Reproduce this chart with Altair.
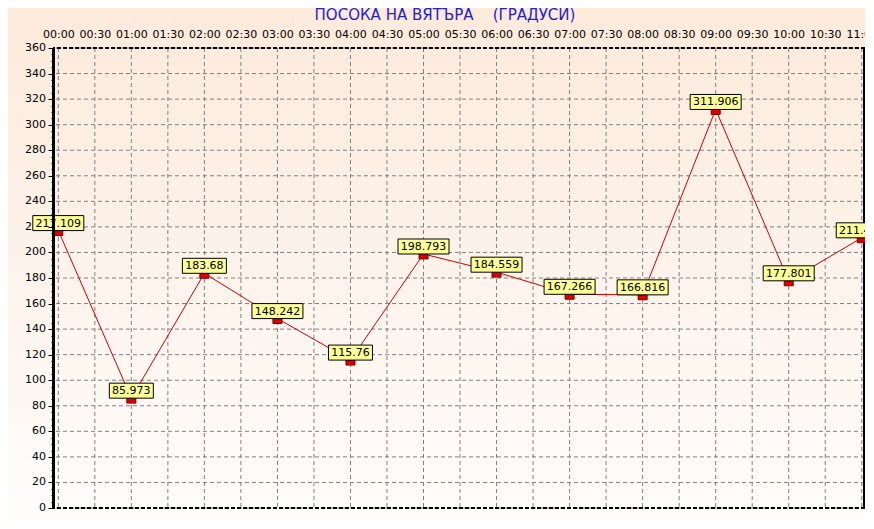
import altair as alt
import pandas as pd

# ---- data ----
times = ["00:00", "01:00", "02:00", "03:00", "04:00", "05:00",
         "06:00", "07:00", "08:00", "09:00", "10:00", "11:00"]
values = [217.109, 85.973, 183.68, 148.242, 115.76, 198.793,
          184.559, 167.266, 166.816, 311.906, 177.801, 211.449]
labels = ["217.109", "85.973", "183.68", "148.242", "115.76", "198.793",
          "184.559", "167.266", "166.816", "311.906", "177.801", "211.449"]
tick_labels = ["00:00", "00:30", "01:00", "01:30", "02:00", "02:30", "03:00",
               "03:30", "04:00", "04:30", "05:00", "05:30", "06:00", "06:30",
               "07:00", "07:30", "08:00", "08:30", "09:00", "09:30", "10:00",
               "10:30", "11:00"]
y_grid = [0, 20, 40, 60, 80, 100, 120, 140, 160, 180, 200, 220, 240, 260,
          280, 300, 320, 340, 360]
y_ticks = list(range(0, 361, 5))
title_text = "ПОСОКА НА ВЯТЪРА\u00a0\u00a0\u00a0\u00a0(ГРАДУСИ)"

df = pd.DataFrame({"time": times, "value": values, "label": labels})
gx = pd.DataFrame({"time": tick_labels})
gy = pd.DataFrame({"value": y_grid})
one = pd.DataFrame({"t": [title_text]})

W, H = 812, 460
FONT = "DejaVu Sans"

x_scale = alt.Scale(type="point", domain=tick_labels, padding=0.117, align=0.62)
y_scale = alt.Scale(domain=[0, 360], nice=False, zero=False)

x_enc = alt.X(
    "time:O", scale=x_scale,
    axis=alt.Axis(orient="top", title=None, labelAngle=0, ticks=False,
                  domain=False, grid=False, labelFont=FONT, labelFontSize=11,
                  labelColor="black", labelPadding=9, zindex=1,
                  labelOverlap=False),
)
# y axis: line and ticks on top; its labels are drawn as a text layer below the value boxes
y_enc = alt.Y(
    "value:Q", scale=y_scale,
    axis=alt.Axis(values=y_ticks, title=None, grid=False, domainColor="black",
                  domainWidth=3, tickColor="black", tickWidth=1,
                  tickSize={"condition": {"test": "datum.value % 20 === 0", "value": 5}, "value": 2},
                  labels=False, zindex=1),
)

grad = alt.LinearGradient(
    gradient="linear", x1=0, x2=0, y1=0, y2=1,
    stops=[alt.GradientStop(offset=0, color="#fdeadb"),
           alt.GradientStop(offset=0.5, color="#fdf3eb"),
           alt.GradientStop(offset=1, color="#fffdfc")],
)

bg = alt.Chart(one).mark_rect(fill=grad, strokeWidth=0).encode(
    x=alt.value(-45), x2=alt.value(W), y=alt.value(-40), y2=alt.value(H + 13)
)

title = alt.Chart(one).mark_text(
    font=FONT, fontSize=15, color="#2222cc", align="center", baseline="middle"
).encode(text="t:N", x=alt.value(392), y=alt.value(-33))

grid_x = alt.Chart(gx).mark_rule(color="#808080", strokeWidth=1, strokeDash=[4, 3]).encode(x=x_enc)
grid_y = alt.Chart(gy).mark_rule(color="#808080", strokeWidth=1, strokeDash=[4, 3]).encode(y=y_enc)

y_labels = alt.Chart(gy).mark_text(
    font=FONT, fontSize=11, color="black", align="right", baseline="middle"
).encode(y=y_enc, x=alt.value(-7), text=alt.Text("value:Q", format="d"))

line = alt.Chart(df).mark_line(color="#cc0000", strokeWidth=1).encode(x=x_enc, y=y_enc)

top_b = alt.Chart(one).mark_rule(color="black", strokeWidth=2, strokeDash=[4, 2]).encode(y=alt.value(0))
bot_b = alt.Chart(one).mark_rule(color="black", strokeWidth=2, strokeDash=[4, 2]).encode(y=alt.value(H))
right_b = alt.Chart(one).mark_rule(color="black", strokeWidth=2).encode(x=alt.value(W - 1))

markers = alt.Chart(df).mark_point(
    shape="M-1,0H1V1.1H-1Z", size=81, filled=True, fill="#dd0000",
    stroke="#7a0000", strokeWidth=1, opacity=1
).encode(x=x_enc, y=y_enc)

boxes = alt.Chart(df).mark_rect(
    fill="#ffff99", stroke="black", strokeWidth=1, height=15,
    width=alt.ExprRef(expr="length(datum.label)*7+2"), yOffset=-7.5
).encode(x=x_enc, y=y_enc)

texts = alt.Chart(df).mark_text(
    font=FONT, fontSize=11, color="black", baseline="middle", align="center", dy=-7
).encode(x=x_enc, y=y_enc, text="label:N")

chart = alt.layer(
    bg, title, grid_x, grid_y, y_labels, line, top_b, bot_b, right_b,
    markers, boxes, texts
).properties(
    width=W, height=H,
    padding={"left": 45, "top": 40, "right": 0, "bottom": 13},
    autosize=alt.AutoSizeParams(type="none"),
).configure_view(stroke=None).configure(background="#fdf1e8").configure_axis(
    labelOverlap=False
)

chart.save("out.html", embed_options={"renderer": "svg", "actions": False})
